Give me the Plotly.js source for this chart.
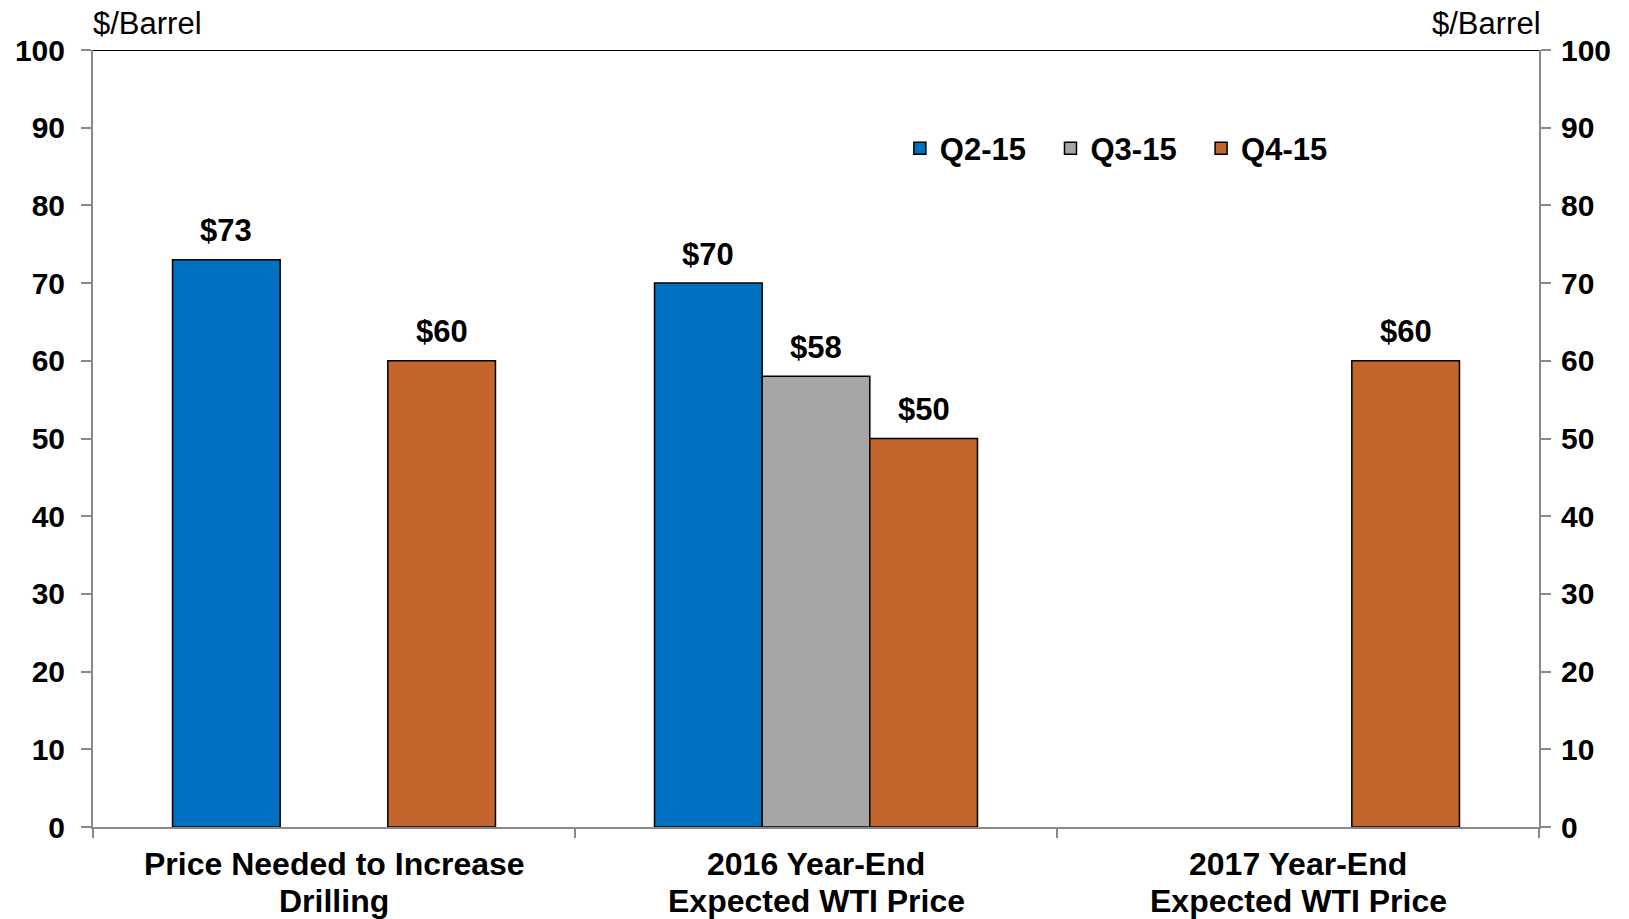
<!DOCTYPE html>
<html>
<head>
<meta charset="utf-8">
<script src="https://cdn.plot.ly/plotly-3.0.1.min.js"></script>
<style>
  html, body { margin: 0; padding: 0; background: #ffffff; }
  #chart { width: 1629px; height: 919px; }
</style>
</head>
<body>
<div id="chart"></div>
<script>
// ---- Data ----
const categories = [
  "Price Needed to Increase<br>Drilling",
  "2016 Year-End<br>Expected WTI Price",
  "2017 Year-End<br>Expected WTI Price"
];
const seriesNames = ["Q2-15", "Q3-15", "Q4-15"];
const q2Values = [73, 70, null];
const q3Values = [null, 58, null];
const q4Values = [60, 50, 60];
const yTicks = [0, 10, 20, 30, 40, 50, 60, 70, 80, 90, 100];
const unitLabel = "$/Barrel";

// ---- Styles ----
const colors = ["#0070C0", "#A6A6A6", "#C4652E"];
const FONT = "Liberation Sans, Arial, sans-serif";
const AXIS_GRAY = "#898989";
const BARGAP = 0.33;

const seriesValues = [q2Values, q3Values, q4Values];

const traces = seriesNames.map((name, i) => ({
  type: "bar",
  name: name,
  x: categories,
  y: seriesValues[i],
  marker: { color: colors[i], line: { color: "#000000", width: 1.5 } },
  hoverinfo: "skip"
}));

// invisible trace to carry the right-hand axis
traces.push({
  type: "scatter",
  x: categories,
  y: [0, 0, 0],
  yaxis: "y2",
  mode: "none",
  showlegend: false,
  hoverinfo: "skip"
});

const tickFont = { family: FONT, size: 30, color: "#000000", weight: "bold" };

const annotations = [];
// value labels above bars
const nSeries = seriesNames.length;
const barW = (1 - BARGAP) / nSeries;
seriesValues.forEach((vals, i) => {
  vals.forEach((v, j) => {
    if (v === null || v === undefined) return;
    annotations.push({
      xref: "x", yref: "y",
      x: j + (i - (nSeries - 1) / 2) * barW,
      y: v,
      text: "$" + v,
      showarrow: false,
      yanchor: "middle",
      yshift: 29,
      font: { family: FONT, size: 31, color: "#000000", weight: "bold" }
    });
  });
});
// category labels (two lines each)
categories.forEach((c, j) => {
  c.split("<br>").forEach((line, k) => {
    annotations.push({
      xref: "x", yref: "paper",
      x: j, y: 0,
      text: line,
      showarrow: false,
      yanchor: "middle",
      yshift: -37 - k * 36.5,
      font: { family: FONT, size: 32, color: "#000000", weight: "bold" }
    });
  });
});
// unit labels
annotations.push({
  text: unitLabel, xref: "paper", yref: "paper",
  x: 0, y: 1, xanchor: "left", yanchor: "middle", yshift: 26.5, xshift: -2,
  showarrow: false,
  font: { family: FONT, size: 31, color: "#000000" }
});
annotations.push({
  text: unitLabel, xref: "paper", yref: "paper",
  x: 1, y: 1, xanchor: "right", yanchor: "middle", yshift: 26.5, xshift: 4,
  showarrow: false,
  font: { family: FONT, size: 31, color: "#000000" }
});

const layout = {
  width: 1629,
  height: 919,
  margin: { l: 93, r: 90, t: 50, b: 92 },
  paper_bgcolor: "#ffffff",
  plot_bgcolor: "#ffffff",
  barmode: "group",
  bargap: BARGAP,
  bargroupgap: 0,
  showlegend: true,
  legend: {
    orientation: "h",
    x: 0.558,
    xanchor: "left",
    y: 0.873,
    yanchor: "middle",
    entrywidth: 105.6,
    font: { family: FONT, size: 31, color: "#000000", weight: "bold" },
    bgcolor: "rgba(0,0,0,0)",
    itemclick: false,
    traceorder: "normal"
  },
  xaxis: {
    type: "category",
    range: [-0.5, categories.length - 0.5],
    tickson: "boundaries",
    ticks: "outside",
    ticklen: 9,
    tickwidth: 2,
    tickcolor: AXIS_GRAY,
    showline: true,
    linecolor: AXIS_GRAY,
    linewidth: 2,
    showgrid: false,
    zeroline: false,
    showticklabels: false,
    fixedrange: true
  },
  yaxis: {
    range: [0, 100],
    tickvals: yTicks,
    ticks: "outside",
    ticklen: 10,
    tickwidth: 2,
    tickcolor: AXIS_GRAY,
    showline: true,
    linecolor: AXIS_GRAY,
    linewidth: 2,
    showgrid: false,
    zeroline: false,
    tickfont: tickFont,
    ticklabelstandoff: 10,
    fixedrange: true
  },
  yaxis2: {
    range: [0, 100],
    tickvals: yTicks,
    overlaying: "y",
    side: "right",
    ticks: "outside",
    ticklen: 10,
    tickwidth: 2,
    tickcolor: AXIS_GRAY,
    showline: true,
    linecolor: AXIS_GRAY,
    linewidth: 2,
    showgrid: false,
    zeroline: false,
    tickfont: tickFont,
    ticklabelstandoff: 4,
    fixedrange: true
  },
  shapes: [{
    type: "line",
    xref: "paper", yref: "y",
    x0: 0, x1: 1, y0: 100, y1: 100,
    line: { color: "#000000", width: 2 }
  }],
  annotations: annotations
};

Plotly.newPlot("chart", traces, layout, { staticPlot: true, displayModeBar: false });
</script>
</body>
</html>
